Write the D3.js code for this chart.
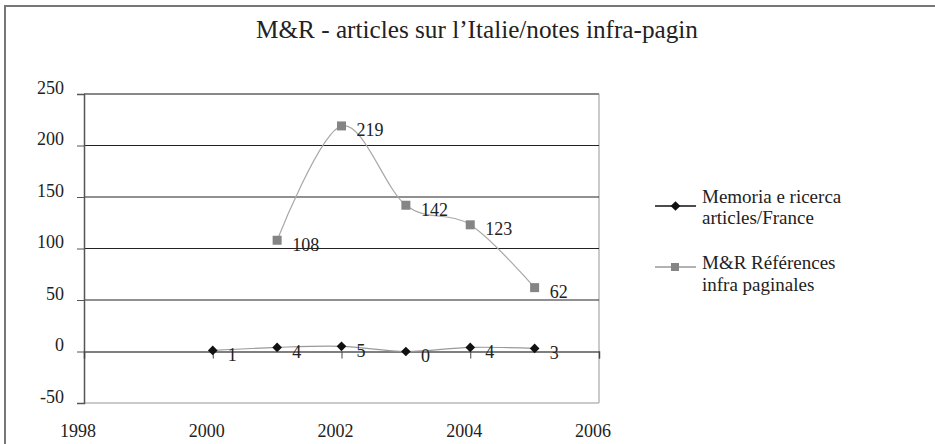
<!DOCTYPE html>
<html>
<head>
<meta charset="utf-8">
<script src="https://cdn.jsdelivr.net/npm/d3@7"></script>
<style>
  html, body { margin: 0; padding: 0; background: #fff; }
  svg { display: block; }
  svg text { font-family: 'Liberation Serif', 'Times New Roman', serif !important; fill: #222; }
</style>
</head>
<body>
<svg id="chart" width="935" height="444"></svg>
<script>
const title = "M&R - articles sur l\u2019Italie/notes infra-pagin";
const memoriaYears = [2000, 2001, 2002, 2003, 2004, 2005];
const memoriaValues = [1, 4, 5, 0, 4, 3];
const refYears = [2001, 2002, 2003, 2004, 2005];
const refValues = [108, 219, 142, 123, 62];
const xTicks = [1998, 2000, 2002, 2004, 2006];
const yTicks = [-50, 0, 50, 100, 150, 200, 250];
const seriesNames = [["Memoria e ricerca", "articles/France"], ["M&R R\u00e9f\u00e9rences", "infra paginales"]];

const FONT = "'Liberation Serif', 'Times New Roman', serif";
const svg = d3.select("#chart");
const x = d3.scaleLinear().domain([1998, 2006]).range([84, 599]);
const y = d3.scaleLinear().domain([-50, 250]).range([403, 94]);

// outer frame
svg.append("path").attr("d", "M5,450 L5,6 L940,6")
  .attr("fill", "none").attr("stroke", "#777").attr("stroke-width", 2);

// title
const t = svg.append("text").attr("x", 477).attr("y", 37.5).attr("text-anchor", "middle")
  .attr("font-family", FONT).attr("font-size", 25).text(title);
const tw = t.node().getComputedTextLength();
t.attr("font-size", 25 * 442 / tw);

// plot area borders
svg.append("line").attr("x1", x(1998)).attr("x2", x(2006)).attr("y1", y(-50)).attr("y2", y(-50))
  .attr("stroke", "#b8b8b8").attr("stroke-width", 1.5);
svg.append("line").attr("x1", x(2006)).attr("x2", x(2006)).attr("y1", y(250)).attr("y2", y(-50))
  .attr("stroke", "#b8b8b8").attr("stroke-width", 1.5);

// gridlines
const gridVals = [50, 100, 150, 200];
svg.append("g").selectAll("line").data(gridVals).join("line")
  .attr("x1", x(1998)).attr("x2", x(2006)).attr("y1", d => y(d)).attr("y2", d => y(d))
  .attr("stroke", "#222").attr("stroke-width", 1);
svg.append("line").attr("x1", x(1998)).attr("x2", x(2006)).attr("y1", y(250)).attr("y2", y(250))
  .attr("stroke", "#888").attr("stroke-width", 2);

// y axis
const yAxis = d3.axisLeft(y).tickValues(yTicks).tickSize(7).tickPadding(13).tickFormat(d => String(d));
const gy = svg.append("g").attr("transform", `translate(${x(1998)},0)`).call(yAxis)
  .attr("font-family", FONT).attr("font-size", 18);
gy.select(".domain").attr("stroke", "#555").attr("stroke-width", 1.5);
gy.selectAll(".tick line").attr("stroke", "#555");
gy.selectAll(".tick text").attr("dy", "-0.05em").attr("fill", "#222");

// x axis at y=0
const xAxis = d3.axisBottom(x).tickValues(xTicks).tickSize(7).tickFormat(d => String(d));
const gx = svg.append("g").attr("transform", `translate(0,${y(0)})`).call(xAxis);
gx.select(".domain").attr("stroke", "#555").attr("stroke-width", 1.5);
gx.selectAll(".tick line").attr("stroke", "#444");
gx.selectAll(".tick text").remove();
// x labels at bottom
svg.append("g").selectAll("text").data(xTicks).join("text")
  .attr("x", d => x(d) - 6).attr("y", 437).attr("text-anchor", "middle")
  .attr("font-family", FONT).attr("font-size", 18).text(d => d);

const curve = d3.curveCatmullRom.alpha(0);

// reference series (gray)
const refData = refYears.map((yr, i) => [yr, refValues[i]]);
svg.append("path").datum(refData)
  .attr("d", d3.line().x(d => x(d[0])).y(d => y(d[1])).curve(curve))
  .attr("fill", "none").attr("stroke", "#a8a8a8").attr("stroke-width", 1.2);
svg.append("g").selectAll("rect").data(refData).join("rect")
  .attr("x", d => x(d[0]) - 4.5).attr("y", d => y(d[1]) - 4.5)
  .attr("width", 9).attr("height", 9).attr("fill", "#858585");
svg.append("g").selectAll("text").data(refData).join("text")
  .attr("x", d => x(d[0]) + 15).attr("y", d => y(d[1]) + 10.5)
  .attr("font-family", FONT).attr("font-size", 18).text(d => d[1]);

// memoria series (black)
const memData = memoriaYears.map((yr, i) => [yr, memoriaValues[i]]);
svg.append("path").datum(memData)
  .attr("d", d3.line().x(d => x(d[0])).y(d => y(d[1])).curve(curve))
  .attr("fill", "none").attr("stroke", "#999").attr("stroke-width", 1.2);
const diamond = d3.symbol().type(d3.symbolDiamond2).size(60);
svg.append("g").selectAll("path").data(memData).join("path")
  .attr("transform", d => `translate(${x(d[0])},${y(d[1])})`)
  .attr("d", diamond).attr("fill", "#111");
svg.append("g").selectAll("text").data(memData).join("text")
  .attr("x", d => x(d[0]) + 15).attr("y", d => y(d[1]) + 10.5)
  .attr("font-family", FONT).attr("font-size", 18).attr("fill", "#333").text(d => d[1]);

// legend
const lg = svg.append("g");
const legY = [206, 267];
lg.append("line").attr("x1", 655).attr("x2", 696).attr("y1", legY[0]).attr("y2", legY[0])
  .attr("stroke", "#111").attr("stroke-width", 1.5);
lg.append("path").attr("transform", `translate(675.5,${legY[0]})`).attr("d", diamond).attr("fill", "#111");
lg.append("line").attr("x1", 655).attr("x2", 696).attr("y1", legY[1]).attr("y2", legY[1])
  .attr("stroke", "#999").attr("stroke-width", 1.5);
lg.append("rect").attr("x", 671).attr("y", legY[1] - 4).attr("width", 8).attr("height", 8).attr("fill", "#858585");
seriesNames.forEach((lines, i) => {
  const base = i === 0 ? 202.5 : 269;
  lines.forEach((s, j) => {
    lg.append("text").attr("x", 702).attr("y", base + j * 21.5)
      .attr("font-family", FONT).attr("font-size", 19).text(s);
  });
});
</script>
</body>
</html>
